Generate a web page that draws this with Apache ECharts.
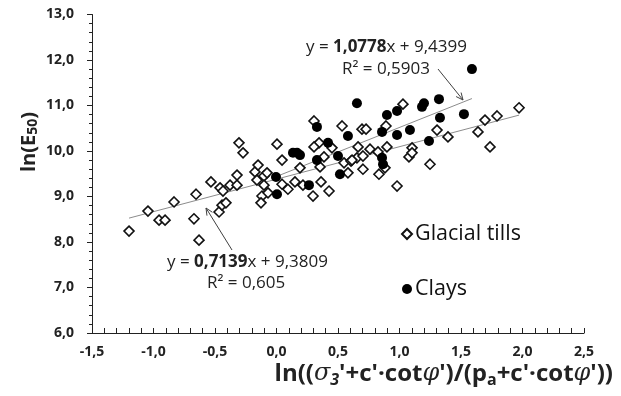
<!DOCTYPE html>
<html><head><meta charset="utf-8">
<script src="https://cdn.jsdelivr.net/npm/echarts@6/dist/echarts.min.js"></script>
<style>html,body{margin:0;padding:0;background:#fff}#c{width:621px;height:396px}</style>
</head><body><div id="c"></div>
<script>
// Glacial tills: [x, y]
const tillsX = [-1.199,-1.045,-0.955,-0.906,-0.833,-0.671,-0.654,-0.630,-0.533,-0.467,-0.459,-0.443,-0.435,-0.411,-0.378,-0.321,-0.321,-0.305,-0.272,-0.175,-0.150,-0.159,-0.102,-0.077,-0.102,-0.118,-0.126,-0.069,0.004,0.045,0.045,0.093,0.150,0.191,0.215,0.297,0.305,0.346,0.305,0.354,0.362,0.386,0.427,0.451,0.533,0.549,0.581,0.606,0.663,0.654,0.614,0.695,0.728,0.703,0.703,0.760,0.825,0.833,0.882,0.890,0.898,1.028,0.980,1.077,1.102,1.102,1.248,1.305,1.394,1.638,1.695,1.736,1.793,1.972];
const tillsY = [8.24,8.68,8.48,8.48,8.88,8.51,9.05,8.04,9.32,8.66,9.19,8.81,9.12,8.86,9.25,9.25,9.47,10.18,9.96,9.54,9.69,9.36,9.45,9.52,9.25,9.01,8.86,9.08,10.15,9.80,9.27,9.16,9.32,9.63,9.25,9.01,10.66,10.18,10.09,9.65,9.32,9.87,9.12,10.07,10.55,9.74,9.52,9.78,10.09,9.85,9.80,10.48,10.48,9.89,9.60,10.04,9.98,9.49,9.63,10.55,10.09,11.03,9.23,9.87,10.07,9.96,9.71,10.46,10.31,10.42,10.68,10.09,10.77,10.95];
// Clays
const claysX = [-0.004,0.004,0.134,0.167,0.191,0.264,0.329,0.329,0.419,0.500,0.516,0.581,0.654,0.858,0.858,0.866,0.898,0.980,0.980,1.085,1.183,1.199,1.240,1.321,1.329,1.524,1.589];
const claysY = [9.43,9.05,9.96,9.96,9.91,9.25,10.53,9.80,10.18,9.89,9.49,10.33,11.05,10.42,9.85,9.71,10.79,10.88,10.35,10.46,10.97,11.05,10.22,11.14,10.73,10.81,11.80];
// Trend line coefficients [slope, intercept, R2]
const tillsFit = [0.7139, 9.3809, '0,605'];
const claysFit = [1.0778, 9.4399, '0,5903'];
const seriesNames = ['Glacial tills', 'Clays'];

const FONT = 'Open Sans';
const pair = (xs, ys) => xs.map((x, i) => [x, ys[i]]);
const fitLine = (xs, f) => {
  const a = Math.min(...xs), b = Math.max(...xs);
  return [[a, f[0]*a + f[1]], [b, f[0]*b + f[1]]];
};
const fmt = v => v.toFixed(1).replace('.', ',');
const fmtC = v => v.toFixed(4).replace('.', ',');

function arrow(x1, y1, x2, y2) {
  const dx = x2 - x1, dy = y2 - y1, L = Math.hypot(dx, dy);
  const ux = dx / L, uy = dy / L, px = -uy, py = ux;
  const bx = x2 - 7 * ux, by = y2 - 7 * uy;
  const st = {stroke: '#404040', lineWidth: 1, fill: null};
  return [
    {type: 'line', shape: {x1, y1, x2, y2}, style: st, z: 10},
    {type: 'polyline', shape: {points: [[bx + 3.2*px, by + 3.2*py], [x2, y2], [bx - 3.2*px, by - 3.2*py]]}, style: st, z: 10}
  ];
}
const T = (size, weight, extra) => Object.assign({fontSize: size, fontWeight: weight || 'normal', fontFamily: FONT, fill: '#222'}, extra || {});

const chart = echarts.init(document.getElementById('c'));
chart.setOption({
  animation: false,
  backgroundColor: '#fff',
  grid: {left: 92, right: 37, top: 14.5, bottom: 63},
  xAxis: {
    type: 'value', min: -1.5, max: 2.5, interval: 0.5,
    axisLine: {onZero: false, lineStyle: {color: '#222', width: 1}},
    axisTick: {inside: true, length: 5, lineStyle: {color: '#222'}},
    minorTick: {show: true, splitNumber: 5, length: 5, lineStyle: {color: '#222'}},
    splitLine: {show: false},
    axisLabel: {formatter: fmt, fontFamily: FONT, fontWeight: 'bold', fontSize: 14, color: '#222', margin: 12}
  },
  yAxis: {
    type: 'value', min: 6, max: 13, interval: 1,
    axisLine: {show: true, onZero: false, lineStyle: {color: '#222', width: 1}},
    axisTick: {show: true, length: 5, lineStyle: {color: '#222'}},
    minorTick: {show: true, splitNumber: 5, length: 3, lineStyle: {color: '#222'}},
    splitLine: {show: false},
    axisLabel: {formatter: fmt, fontFamily: FONT, fontWeight: 'bold', fontSize: 14, color: '#222', margin: 18}
  },
  legend: {
    orient: 'vertical', left: 396, top: 218, itemGap: 33,
    itemWidth: 10, itemHeight: 10,
    data: seriesNames,
    textStyle: {fontFamily: FONT, fontSize: 21.5, color: '#111', padding: [0, 0, 0, -2]}
  },
  series: [
    {type: 'line', data: fitLine(tillsX, tillsFit), symbol: 'none', lineStyle: {color: '#8c8c8c', width: 1}, z: 1, silent: true},
    {type: 'line', data: fitLine(claysX, claysFit), symbol: 'none', lineStyle: {color: '#8c8c8c', width: 1}, z: 1, silent: true},
    {name: seriesNames[0], type: 'scatter', data: pair(tillsX, tillsY), symbol: 'diamond', symbolSize: 10,
     itemStyle: {color: '#fff', borderColor: '#111', borderWidth: 1.6, opacity: 1}, z: 3},
    {name: seriesNames[1], type: 'scatter', data: pair(claysX, claysY), symbol: 'circle', symbolSize: 10,
     itemStyle: {color: '#000', opacity: 1}, z: 4}
  ],
  graphic: [
    {type: 'text', left: 306, top: 39, z: 10, style: T(17, 'normal', {
      text: 'y = {b|' + fmtC(claysFit[0]) + '}x + ' + fmtC(claysFit[1]),
      rich: {b: T(17, 'bold')}})},
    {type: 'text', left: 342, top: 61, z: 10, style: T(17, 'normal', {text: 'R² = ' + claysFit[2]})},
    {type: 'text', left: 167, top: 254, z: 10, style: T(17, 'normal', {
      text: 'y = {b|' + fmtC(tillsFit[0]) + '}x + ' + fmtC(tillsFit[1]),
      rich: {b: T(17, 'bold')}})},
    {type: 'text', left: 207, top: 275, z: 10, style: T(17, 'normal', {text: 'R² = ' + tillsFit[2]})},
    ...arrow(438, 69, 463, 100),
    ...arrow(232, 250, 206, 208),
    {type: 'text', left: 19, top: 112, rotation: Math.PI / 2, z: 10, style: T(20, 'bold', {
      text: 'ln(E{s|50})',
      rich: {s: T(14, 'bold', {padding: [9, 0, 0, 0]})}})},
    {type: 'text', right: 8, top: 362, z: 10, style: T(24, 'bold', {
      text: 'ln(({i|σ}{si|3}\'+c\'·cot{i|φ}\')/(p{s|a}+c\'·cot{i|φ}\'))',
      rich: {
        i: T(24, 'normal', {fontStyle: 'italic', fontFamily: 'DejaVu Serif'}),
        si: T(16, 'bold', {fontStyle: 'italic', padding: [12, 0, 0, 0]}),
        s: T(16, 'bold', {padding: [12, 0, 0, 0]})
      }})}
  ]
});
</script></body></html>
